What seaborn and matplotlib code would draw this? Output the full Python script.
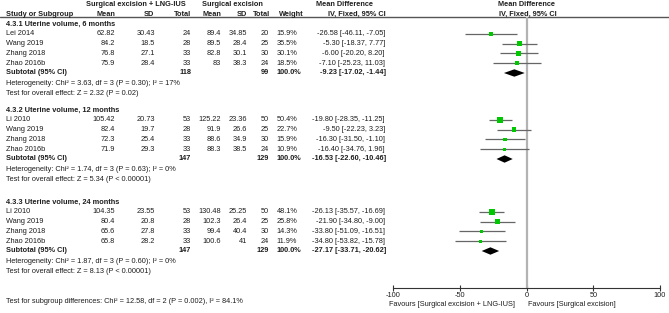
"""Forest plot: uterine volume, surgical excision + LNG-IUS vs surgical excision."""

import matplotlib

matplotlib.use("Agg")
import matplotlib.pyplot as plt
import numpy as np
import pandas as pd
import seaborn as sns

# ---------- data ----------

group_titles = [
    "4.3.1 Uterine volume, 6 months",
    "4.3.2 Uterine volume, 12 months",
    "4.3.3 Uterine volume, 24 months",
]
studies = [
    ["Lei 2014", "Wang 2019", "Zhang 2018", "Zhao 2016b"],
    ["Li 2010", "Wang 2019", "Zhang 2018", "Zhao 2016b"],
    ["Li 2010", "Wang 2019", "Zhang 2018", "Zhao 2016b"],
]
exp_mean = [["62.82", "84.2", "76.8", "75.9"],
            ["105.42", "82.4", "72.3", "71.9"],
            ["104.35", "80.4", "65.6", "65.8"]]
exp_sd = [["30.43", "18.5", "27.1", "28.4"],
          ["20.73", "19.7", "25.4", "29.3"],
          ["23.55", "20.8", "27.8", "28.2"]]
exp_n = [[24, 28, 33, 33], [53, 28, 33, 33], [53, 28, 33, 33]]
ctl_mean = [["89.4", "89.5", "82.8", "83"],
            ["125.22", "91.9", "88.6", "88.3"],
            ["130.48", "102.3", "99.4", "100.6"]]
ctl_sd = [["34.85", "28.4", "30.1", "38.3"],
          ["23.36", "26.6", "34.9", "38.5"],
          ["25.25", "26.4", "40.4", "41"]]
ctl_n = [[20, 25, 30, 24], [50, 25, 30, 24], [50, 25, 30, 24]]
weights = [[15.9, 35.5, 30.1, 18.5],
           [50.4, 22.7, 15.9, 10.9],
           [48.1, 25.8, 14.3, 11.9]]
md = [[-26.58, -5.30, -6.00, -7.10],
      [-19.80, -9.50, -16.30, -16.40],
      [-26.13, -21.90, -33.80, -34.80]]
ci_low = [[-46.11, -18.37, -20.20, -25.23],
          [-28.35, -22.23, -31.50, -34.76],
          [-35.57, -34.80, -51.09, -53.82]]
ci_high = [[-7.05, 7.77, 8.20, 11.03],
           [-11.25, 3.23, -1.10, 1.96],
           [-16.69, -9.00, -16.51, -15.78]]

sub_exp_n = [118, 147, 147]
sub_ctl_n = [99, 129, 129]
sub_md = [-9.23, -16.53, -27.17]
sub_low = [-17.02, -22.60, -33.71]
sub_high = [-1.44, -10.46, -20.62]
heterogeneity = [
    "Heterogeneity: Chi² = 3.63, df = 3 (P = 0.30); I² = 17%",
    "Heterogeneity: Chi² = 1.74, df = 3 (P = 0.63); I² = 0%",
    "Heterogeneity: Chi² = 1.87, df = 3 (P = 0.60); I² = 0%",
]
overall_test = [
    "Test for overall effect: Z = 2.32 (P = 0.02)",
    "Test for overall effect: Z = 5.34 (P < 0.00001)",
    "Test for overall effect: Z = 8.13 (P < 0.00001)",
]
subgroup_test = "Test for subgroup differences: Chi² = 12.58, df = 2 (P = 0.002), I² = 84.1%"

x_ticks = [-100, -50, 0, 50, 100]
favours_left = "Favours [Surgical excision + LNG-IUS]"
favours_right = "Favours [Surgical excision]"

# ---------- layout (pixel rows) ----------

W, H = 669, 313
group_top = [24, 110, 202]
row_step = 9.8
header_line_y = 17.3
axis_y = 288.3
x_px_min, x_px_max = 393.3, 660.0

FS = 5.35
TXT = "#1e1e1e"

sns.set_style("white")
plt.rcParams["font.family"] = ["Liberation Sans", "DejaVu Sans"]

fig = plt.figure(figsize=(W / 100, H / 100), dpi=100)

# text layer in pixel coordinates
tab = fig.add_axes([0, 0, 1, 1])
tab.set_xlim(0, W)
tab.set_ylim(H, 0)
tab.axis("off")

# forest panel; y in the same pixel rows
ax = fig.add_axes([
    x_px_min / W,
    (H - axis_y) / H,
    (x_px_max - x_px_min) / W,
    (axis_y - header_line_y) / H,
])
ax.patch.set_alpha(0)


def put(x, y, s, ha="left", bold=False):
    tab.text(x, y, s, ha=ha, va="center", fontsize=FS, color=TXT,
             fontweight="bold" if bold else "normal")


# column headers
put(136, 4, "Surgical excision + LNG-IUS", ha="center", bold=True)
put(232, 4, "Surgical excision", ha="center", bold=True)
put(344.5, 4, "Mean Difference", ha="center", bold=True)
put(527, 4, "Mean Difference", ha="center", bold=True)
put(6, 14, "Study or Subgroup", bold=True)
put(115, 14, "Mean", ha="right", bold=True)
put(154, 14, "SD", ha="right", bold=True)
put(191, 14, "Total", ha="right", bold=True)
put(221, 14, "Mean", ha="right", bold=True)
put(247, 14, "SD", ha="right", bold=True)
put(270, 14, "Total", ha="right", bold=True)
put(291, 14, "Weight", ha="center", bold=True)
put(386, 14, "IV, Fixed, 95% CI", ha="right", bold=True)
put(528, 14, "IV, Fixed, 95% CI", ha="center", bold=True)
tab.plot([0, W], [header_line_y, header_line_y], color="#555555", lw=1.0)

# build study table
rows = []
for g in range(3):
    top = group_top[g]
    put(6, top, group_titles[g], bold=True)
    for i in range(4):
        y = top + row_step * (i + 1)
        rows.append({"y": y, "md": md[g][i], "lo": ci_low[g][i],
                     "hi": ci_high[g][i], "weight": weights[g][i]})
        put(6, y, studies[g][i])
        put(115, y, exp_mean[g][i], ha="right")
        put(155, y, exp_sd[g][i], ha="right")
        put(191, y, str(exp_n[g][i]), ha="right")
        put(221, y, ctl_mean[g][i], ha="right")
        put(247, y, ctl_sd[g][i], ha="right")
        put(269, y, str(ctl_n[g][i]), ha="right")
        put(287, y, f"{weights[g][i]:.1f}%", ha="center")
        put(385, y, f"{md[g][i]:.2f} [{ci_low[g][i]:.2f}, {ci_high[g][i]:.2f}]",
            ha="right")
    ys = top + row_step * 5
    put(6, ys, "Subtotal (95% CI)", bold=True)
    put(191, ys, str(sub_exp_n[g]), ha="right", bold=True)
    put(269, ys, str(sub_ctl_n[g]), ha="right", bold=True)
    put(289, ys, "100.0%", ha="center", bold=True)
    put(386, ys, f"{sub_md[g]:.2f} [{sub_low[g]:.2f}, {sub_high[g]:.2f}]",
        ha="right", bold=True)
    put(6, top + row_step * 6 + 0.8, heterogeneity[g])
    put(6, top + row_step * 7 + 0.8, overall_test[g])

put(6, 301.7, subgroup_test)

df = pd.DataFrame(rows)

# ---------- forest ----------
ax.axvline(0, color="#b3b3b3", lw=1.6, zorder=1)
ax.hlines(df["y"], df["lo"], df["hi"], color="#666666", lw=0.9, zorder=2)
sns.scatterplot(data=df, x="md", y="y", size="weight", sizes=(0, 42),
                size_norm=(0, 100), marker="s", color="#00c800",
                linewidth=0, legend=False, ax=ax, zorder=3)

for g in range(3):
    ys = group_top[g] + row_step * 5
    h = 3.7
    ax.fill([sub_low[g], sub_md[g], sub_high[g], sub_md[g]],
            [ys, ys - h, ys, ys + h], color="black", lw=0, zorder=4)

ax.set_xlim(-100, 100)
ax.set_ylim(axis_y, header_line_y)
ax.set_xticks(x_ticks)
ax.set_xticklabels([str(t) for t in x_ticks])
ax.set_yticks([])
ax.set_xlabel("")
ax.set_ylabel("")
for side in ["top", "left", "right"]:
    ax.spines[side].set_visible(False)
ax.spines["bottom"].set_color("#333333")
ax.spines["bottom"].set_linewidth(0.8)
ax.tick_params(axis="x", direction="inout", length=4, width=0.8,
               color="#333333", labelsize=FS, labelcolor=TXT, pad=0.5,
               bottom=True)

put(515, 304, favours_left, ha="right")
put(528, 304, favours_right)

fig.savefig("out.png", dpi=100)
